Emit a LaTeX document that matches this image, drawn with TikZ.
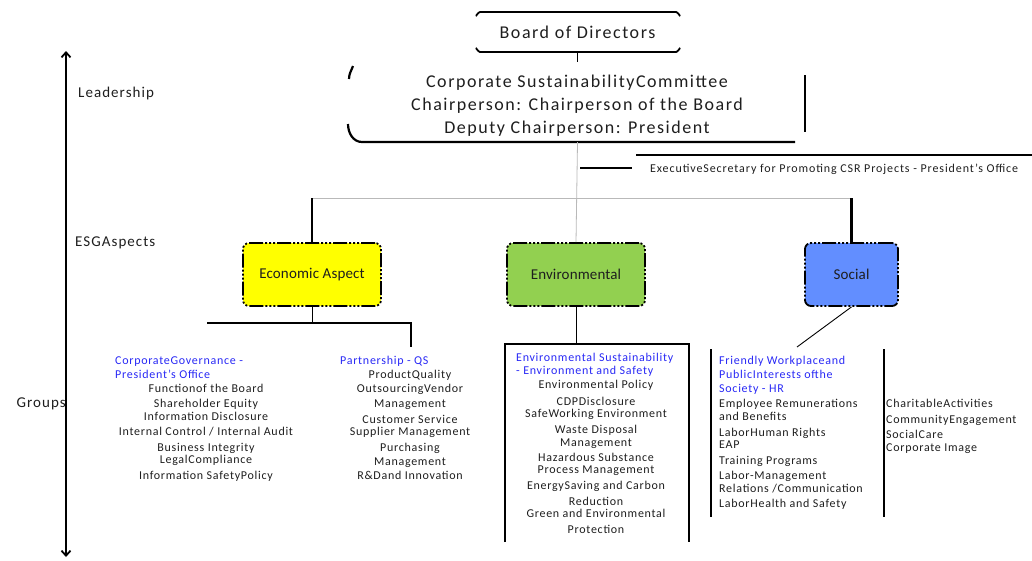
\documentclass[tikz,border=0pt]{standalone}
\usepackage{fontspec}
\setmainfont{Carlito}[LetterSpace=6]
\usetikzlibrary{arrows.meta,calc}
\definecolor{ink}{RGB}{30,30,30}
\definecolor{headblue}{RGB}{40,40,245}
\definecolor{econyellow}{RGB}{255,255,0}
\definecolor{envgreen}{RGB}{146,208,80}
\definecolor{socblue}{RGB}{98,142,255}
\definecolor{linkgrey}{RGB}{185,185,185}

\begin{document}
\begin{tikzpicture}[x=1pt,y=-1pt,
  body/.style={inner sep=0pt, text=ink, font=\fontsize{12}{14}\selectfont, text height=9pt, text depth=1pt},
  head/.style={body, text=headblue, anchor=west},
  axislabel/.style={inner sep=0pt, text=ink, font=\fontsize{15}{17}\selectfont\addfontfeature{LetterSpace=7},
    text height=11pt, text depth=1pt, anchor=west},
  aspect/.style={draw=black, line width=1.8pt, rounded corners=6pt, minimum height=63pt, inner sep=0pt,
    dash pattern=on 14pt off 2pt on 2pt off 2pt on 2pt off 2pt on 2pt off 2pt,
    font=\fontsize{15}{17}\selectfont\addfontfeature{LetterSpace=1}, text=ink},
  frame/.style={line width=1.8pt, black},
  thinlink/.style={line width=0.8pt, linkgrey},
]
\useasboundingbox (0,0) rectangle (1032,560);

% ---- vertical axis with level labels
\coordinate (axTop) at (66,51);
\coordinate (axBot) at (66,557);
\draw[line width=1.8pt, {Straight Barb[length=5pt,width=9pt]}-{Straight Barb[length=5pt,width=9pt]}] (axTop) -- (axBot);
\node[axislabel] (lead) at (78,92) {Leadership};
\node[axislabel] (esg) at (75,241) {ESGAspects};
\node[axislabel, anchor=east] (grp) at (66,402) {Groups};

% ---- board
\node[inner sep=0pt, minimum width=205pt, minimum height=40pt, text=ink,
      font=\fontsize{18}{20}\selectfont\addfontfeature{LetterSpace=8.5}] (board) at (577.5,32) {Board of Directors};
\draw[frame] (476,15) to[out=-90,in=180] (480,12) -- (676,12) to[out=0,in=-90] (680,15);
\draw[frame] (476,49) to[out=90,in=180] (480,52) -- (676,52) to[out=0,in=90] (680,49);

% ---- committee
\node[inner sep=0pt, minimum width=459pt, minimum height=80pt, text=ink, align=center,
      font=\fontsize{18}{23}\selectfont\addfontfeature{LetterSpace=8.5}] (committee) at (577.5,102) {};
\foreach \t/\y [count=\i] in {{Corporate SustainabilityCommittee}/81,
    {Chairperson: Chairperson of the Board}/104, {Deputy Chairperson: President}/127}
  \node[inner sep=0pt, text=ink, text height=13pt, text depth=1pt,
        font=\fontsize{18}{23}\selectfont\addfontfeature{LetterSpace=8.5}] (cm-\i) at (577,\y) {\t};
\draw[line width=2.2pt] (353,66) to[out=-110,in=90] (349,79);
\draw[line width=2.2pt] (348,124) to[out=-90,in=180] (362,142) -- (795,142);
\draw[line width=2.2pt] (805,75) -- (805,132);
\draw[line width=1.5pt] (board.south) -- (committee.north);

% ---- executive secretary
\node[body, anchor=west, font=\fontsize{12}{14}\selectfont\addfontfeature{LetterSpace=7.5}] (exec) at (650,168)
  {ExecutiveSecretary for Promoting CSR Projects - President's Office};
\coordinate (execA) at (636,155);
\coordinate (execB) at (1032,155);
\coordinate (execL) at (580,168);
\coordinate (execR) at (632,168);
\draw[line width=2pt] (execA) -- (execB);
\draw[line width=1.2pt] (execL) -- (execR);

% ---- ESG aspects
\node[aspect, fill=econyellow, minimum width=138pt] (econ) at (312,274.5) {Economic Aspect};
\node[aspect, fill=envgreen, minimum width=138pt] (env) at (576,274.5) {Environmental};
\node[aspect, fill=socblue, minimum width=93pt] (soc) at (851.5,274.5) {Social};

\coordinate (bar) at (577,198);
\draw[thinlink] (committee.south) -- (env.north);
\draw[thinlink] (econ.north |- bar) -- (soc.north |- bar);
\draw[line width=1.1pt] (econ.north |- bar) -- (econ.north);
\draw[line width=2.4pt] (soc.north |- bar) -- (soc.north);

% ---- economic groups
\coordinate (ecL) at (207,323);
\coordinate (ecR) at (411,323);
\coordinate (ecEnd) at (411,347);
\draw[line width=1pt] (econ.south) -- (econ.south |- ecR);
\draw[frame] (ecL) -- (ecR) -- (ecEnd);

\node[head] (cg1) at (115,360) {CorporateGovernance -};
\node[head] (cg2) at (115,374) {President's Office};
\foreach \t/\y [count=\i] in {{Functionof the Board}/388, {Shareholder Equity}/403,
    {Information Disclosure}/416, {Internal Control / Internal Audit}/431,
    {Business Integrity}/447, {LegalCompliance}/459, {Information SafetyPolicy}/475}
  \node[body] (cg-\i) at (206,\y) {\t};

\node[head] (ps1) at (340,360) {Partnership - QS};
\foreach \t/\y [count=\i] in {{ProductQuality}/374, {OutsourcingVendor}/388,
    {Management}/403, {Customer Service}/419, {Supplier Management}/431,
    {Purchasing}/447, {Management}/461, {R\&Dand Innovation}/475}
  \node[body] (ps-\i) at (410,\y) {\t};

% ---- environmental group
\node[inner sep=0pt, minimum width=184pt, minimum height=198pt] (envgrp) at (597,443) {};
\draw[line width=1pt] (env.south) -- (env.south |- envgrp.north);
\draw[frame] (envgrp.south west) -- (envgrp.north west) -- (envgrp.north east) -- (envgrp.south east);
\node[head] (es1) at (516,357) {Environmental Sustainability};
\node[head] (es2) at (516,370) {- Environment and Safety};
\foreach \t/\y [count=\i] in {{Environmental Policy}/384, {CDPDisclosure}/401,
    {SafeWorking Environment}/413, {Waste Disposal}/429, {Management}/442,
    {Hazardous Substance}/457, {Process Management}/469,
    {EnergySaving and Carbon}/485, {Reduction}/501,
    {Green and Environmental}/513, {Protection}/529}
  \node[body] (es-\i) at (596,\y) {\t};

% ---- social groups
\coordinate (socEnd) at (797,347);
\draw[line width=0.9pt] (soc.south) -- (socEnd);
\coordinate (sgA) at (711,349);
\coordinate (sgB) at (711,517);
\coordinate (sgC) at (884,349);
\coordinate (sgD) at (884,517);
\draw[frame] (sgA) -- (sgB);
\draw[frame] (sgC) -- (sgD);
\node[head] (fw1) at (719,360) {Friendly Workplaceand};
\node[head] (fw2) at (719,374) {PublicInterests ofthe};
\node[head] (fw3) at (719,388) {Society - HR};
\foreach \t/\y [count=\i] in {{Employee Remunerations}/403, {and Benefits}/416,
    {LaborHuman Rights}/432, {EAP}/444, {Training Programs}/460,
    {Labor-Management}/475, {Relations /Communication}/488,
    {LaborHealth and Safety}/503}
  \node[body, anchor=west] (fw-\i) at (719,\y) {\t};
\foreach \t/\y [count=\i] in {{CharitableActivities}/403, {CommunityEngagement}/419,
    {SocialCare}/434, {Corporate Image}/447}
  \node[body, anchor=west] (ce-\i) at (886,\y) {\t};
\end{tikzpicture}
\end{document}
